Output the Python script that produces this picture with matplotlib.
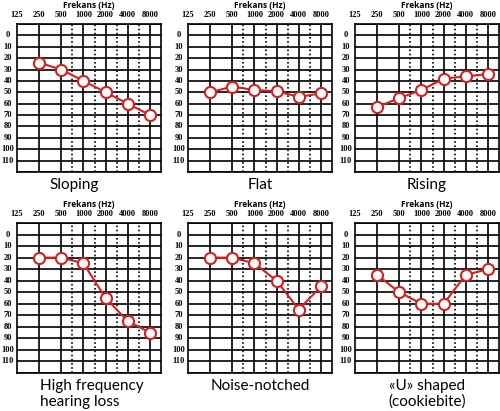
import matplotlib
matplotlib.use("Agg")
import matplotlib.pyplot as plt

# frequencies (Hz) shown on top of every audiogram
freq_labels = ["125", "250", "500", "1000", "2000", "4000", "8000"]
db_labels = [0, 10, 20, 30, 40, 50, 60, 70, 80, 90, 100, 110]

# thresholds (dB HL) at 250 ... 8000 Hz
sloping = [24, 30, 40, 50, 60, 70]
flat = [50, 45, 48, 49, 54, 51]
rising = [63, 55, 48, 38, 36, 34]
high_freq = [20, 20, 25, 55, 75, 85]
noise_notched = [20, 20, 25, 40, 65, 45]
u_shaped = [35, 50, 60, 60, 35, 30]

titles = ["Sloping", "Flat", "Rising",
          "High frequency\nhearing loss", "Noise-notched", "«U» shaped\n(cookiebite)"]
series = [sloping, flat, rising, high_freq, noise_notched, u_shaped]

fig = plt.figure(figsize=(5, 4.11), dpi=100)

lefts = [17, 188, 355]
rows = [(24, 172), (223, 373)]
W, H = 500, 411
title_x = [0.394, 0.5, 0.5, 0.16, 0.5, 0.5]
title_ha = ["center", "center", "center", "left", "center", "center"]

for i, (vals, name) in enumerate(zip(series, titles)):
    r, c = divmod(i, 3)
    top, bot = rows[r]
    ax = fig.add_axes([lefts[c] / W, 1 - bot / H, 144 / W, (bot - top) / H])
    ax.set_xlim(0, 6.5)
    ax.set_ylim(120, -10)

    # grid
    for y in range(-10, 121, 10):
        ax.axhline(y, color="black", lw=1.2, zorder=1)
    for x in range(1, 7):
        ax.axvline(x, color="black", lw=1.2, zorder=1)
    for x in [2.5, 3.5, 4.5, 5.5]:
        ax.axvline(x, color="black", lw=1.2, ls=(0, (1, 1.5)), zorder=1)
    for s in ax.spines.values():
        s.set_linewidth(1.2)

    ax.set_xticks(range(7))
    ax.set_xticklabels(freq_labels, fontsize=6, family="Liberation Serif", fontweight="bold")
    ax.xaxis.tick_top()
    ax.tick_params(axis="x", length=0, pad=3.5)
    ax.set_yticks([])
    for d in db_labels:
        ax.text(-0.065, d, str(d), transform=ax.get_yaxis_transform(),
                ha="center", va="center", fontsize=6, family="Liberation Serif",
                fontweight="bold")

    ax.text(0.5, 1 + 18 / 148, "Frekans (Hz)", transform=ax.transAxes,
            ha="center", va="center", fontsize=6, fontweight="bold", family="Open Sans")

    ax.plot(range(1, 7), vals, color="#d42020", lw=1.5, marker="o", ms=8,
            mfc="white", mec="#d42020", mew=1.5, zorder=3, clip_on=False)

    ax.text(title_x[i], -6 / 148, name, transform=ax.transAxes, ha=title_ha[i],
            va="top", fontsize=11, family="Lato", linespacing=1.15,
            multialignment="center" if title_ha[i] == "center" else "left")

fig.savefig("out.png", dpi=100)
